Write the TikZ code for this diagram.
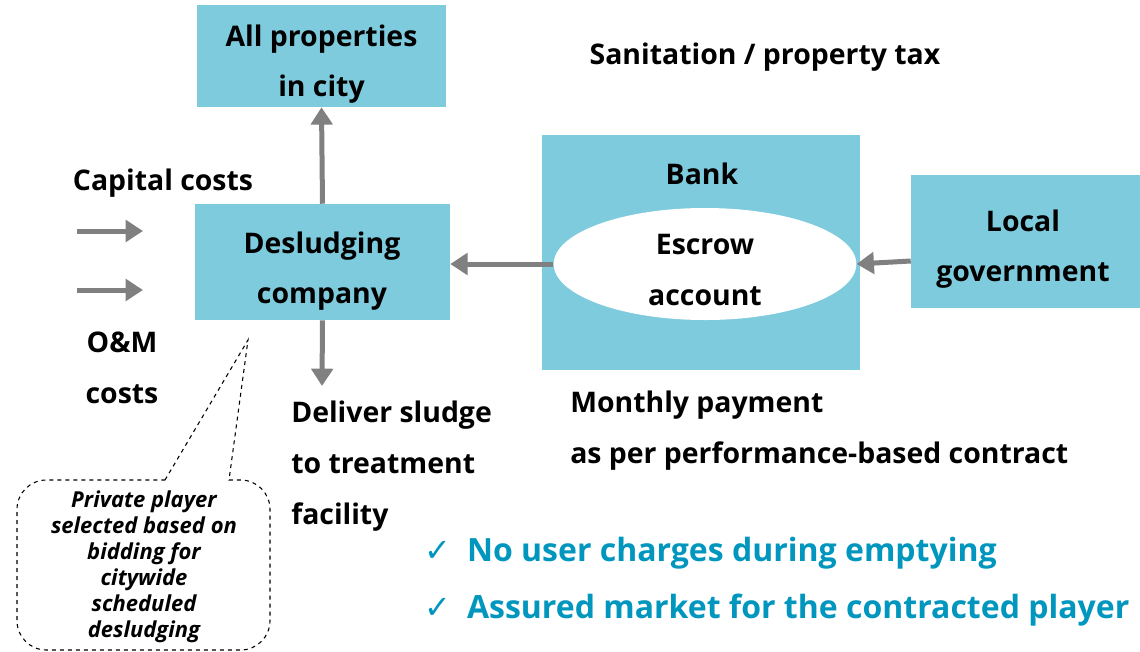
\documentclass[tikz,border=0pt]{standalone}
\usepackage{fontspec}
\setmainfont{Open Sans}
\newfontfamily\symfont{DejaVu Sans}
\usetikzlibrary{arrows.meta,shapes.geometric,fit}
\definecolor{boxblue}{RGB}{127,203,222}
\definecolor{teal}{RGB}{0,150,190}
\definecolor{arrgray}{RGB}{128,128,128}
\tikzset{
  box/.style={fill=boxblue, draw=none, inner sep=0pt},
  lbl/.style={inner sep=0pt, align=left, font=\fontsize{21.3}{38}\selectfont\bfseries},
  flow/.style={draw=arrgray, line width=3.75pt, -{Triangle[length=13pt,width=16pt]}},
  note/.style={inner sep=0pt, align=center, font=\fontsize{16.5}{19.5}\selectfont\bfseries\itshape},
  good/.style={inner sep=0pt, anchor=west, text=teal, font=\fontsize{24}{28}\selectfont\bfseries}
}
\begin{document}
\begin{tikzpicture}[x=0.75pt,y=-0.75pt]
\useasboundingbox (0,0) rectangle (1140,651);
% boxes
\node[box, fit={(197,5)(446,107)}] (props) {};
\node[lbl, align=center] (propst) at (321.5,64) {All properties\\in city};
\node[box, fit={(195,204)(450,320)}] (desl) {};
\node[lbl, align=center] (deslt) at (322,271) {Desludging\\company};
\node[box, fit={(542,135)(860,370)}] (bank) {};
\node[lbl] (bankt) at (702,174) {Bank};
\node[ellipse, fill=white, minimum width=227pt, minimum height=84pt, inner sep=0pt] (escrow) at (705,264) {};
\node[lbl, align=center] (escrowt) at (705,270) {Escrow\\account};
\node[box, fit={(911,175)(1140,308)}] (gov) {};
\node[lbl, align=center] (govt) at (1023,249) {Local\\government};
% labels
\node[lbl] (tax) at (765,57) {Sanitation / property tax};
\node[lbl] (cap) at (163,183) {Capital costs};
\node[lbl, align=center] (om) at (122,368) {O\&M\\costs};
\node[lbl, anchor=north west] (deliver) at (291,401) {Deliver sludge\\to treatment\\facility};
\node[lbl, anchor=north west] (monthly) at (570,391) {Monthly payment\\as per performance-based contract};
% arrows
\coordinate (c1s) at (77,231); \coordinate (c1e) at (143,231);
\coordinate (c2s) at (77,290); \coordinate (c2e) at (143,290);
\draw[flow] (c1s) -- (c1e);
\draw[flow] (c2s) -- (c2e);
\draw[flow] (desl.north) -- (props.south);
\coordinate (dl) at (322,386);
\draw[flow] (desl.south) -- (dl);
\draw[flow] (escrow.west) -- (desl.east |- escrow.west);
\draw[flow] (gov.west |- 0,261) -- (escrow.east);
% callout
\coordinate (tip) at (248,340);
\draw[dashed, line width=0.8pt] (165,480) -- (tip) -- (229,480) [rounded corners=22] -- (270,480) -- (270,650) -- (17,650) -- (17,480) -- (165,480);
\node[note] (notet) at (144,567) {Private player\\selected based on\\bidding for\\citywide\\scheduled\\desludging};
% check items
\node[good] (g1) at (424,553) {{\symfont\fontsize{24}{20}\selectfont ✓}\hspace{12pt}No user charges during emptying};
\node[good] (g2) at (424,610) {{\symfont\fontsize{24}{20}\selectfont ✓}\hspace{12pt}Assured market for the contracted player};
\end{tikzpicture}
\end{document}
